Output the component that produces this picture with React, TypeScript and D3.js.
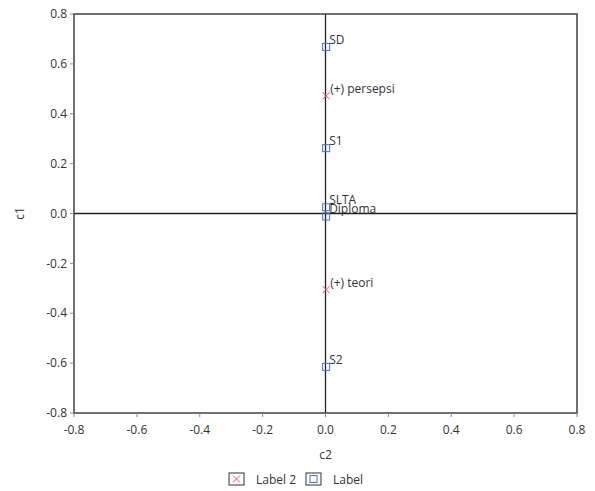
import React from "react";
import * as d3 from "d3";

const labelPoints = [
  { name: "SD", c2: 0.002, c1: 0.668 },
  { name: "S1", c2: 0.002, c1: 0.262 },
  { name: "SLTA", c2: 0.002, c1: 0.025 },
  { name: "Diploma", c2: 0.002, c1: -0.012 },
  { name: "S2", c2: 0.002, c1: -0.615 },
];
const label2Points = [
  { name: "(+) persepsi", c2: 0.002, c1: 0.472 },
  { name: "(+) teori", c2: 0.002, c1: -0.305 },
];
const ticks = [-0.8, -0.6, -0.4, -0.2, 0.0, 0.2, 0.4, 0.6, 0.8];

const W = 595, H = 491;
const L = 74, R = 577, T = 14, B = 413;
const FONT = "'Open Sans', 'DejaVu Sans', sans-serif";
const AX = "#404040";
const BLUE = "#4472C4";
const RED = "#E05070";

export default function App() {
  const x = d3.scaleLinear().domain([-0.8, 0.8]).range([L, R]);
  const y = d3.scaleLinear().domain([-0.8, 0.8]).range([B, T]);
  const fmt = (v: number) => d3.format(".1f")(v).replace("\u2212", "-");
  return (
    <svg width={W} height={H} style={{ position: "absolute", left: 0, top: 0, background: "#fff" }} fontFamily={FONT}>
      <rect x={0} y={0} width={W} height={H} fill="#fff" />
      <line x1={L} x2={R} y1={y(0)} y2={y(0)} stroke="#222" strokeWidth={1.3} />
      <line x1={x(0)} x2={x(0)} y1={T} y2={B} stroke="#222" strokeWidth={1.3} />
      <rect x={L} y={T} width={R - L} height={B - T} fill="none" stroke={AX} strokeWidth={1.5} />
      {ticks.map((t) => (
        <g key={"y" + t}>
          <line x1={L - 4} x2={L} y1={y(t)} y2={y(t)} stroke="#888" />
          <text x={L - 7} y={y(t)} dy="0.35em" textAnchor="end" fontSize={12} fill="#333">{fmt(t)}</text>
        </g>
      ))}
      {ticks.map((t) => (
        <g key={"x" + t}>
          <line x1={x(t)} x2={x(t)} y1={B} y2={B + 4} stroke="#888" />
          <text x={x(t)} y={B + 21} textAnchor="middle" fontSize={12} fill="#333">{fmt(t)}</text>
        </g>
      ))}
      <text x={x(0)} y={459} textAnchor="middle" fontSize={12} fill="#333">c2</text>
      <text transform={`translate(24,${y(0)}) rotate(-90)`} textAnchor="middle" fontSize={12} fill="#333">c1</text>
      {labelPoints.map((p) => (
        <g key={p.name}>
          <rect x={x(p.c2) - 3.5} y={y(p.c1) - 3.5} width={7} height={7} fill="none" stroke={BLUE} strokeWidth={1} />
          <text x={x(p.c2) + 3} y={y(p.c1) - 3} fontSize={12} fill="#333">{p.name}</text>
        </g>
      ))}
      {label2Points.map((p) => (
        <g key={p.name}>
          <path d={`M${x(p.c2) - 3.5},${y(p.c1) - 3.5}L${x(p.c2) + 3.5},${y(p.c1) + 3.5}M${x(p.c2) + 3.5},${y(p.c1) - 3.5}L${x(p.c2) - 3.5},${y(p.c1) + 3.5}`} stroke={RED} strokeWidth={1} />
          <text x={x(p.c2) + 4} y={y(p.c1) - 3} fontSize={12} fill="#333">{p.name}</text>
        </g>
      ))}
      <g>
        <rect x={229} y={473} width={15} height={12} fill="none" stroke="#333" strokeWidth={1} />
        <path d="M233,475.5L240,482.5M240,475.5L233,482.5" stroke={RED} strokeWidth={1} />
        <text x={256} y={484} fontSize={12} fill="#333">Label 2</text>
        <rect x={306} y={473} width={15} height={12} fill="none" stroke="#333" strokeWidth={1} />
        <rect x={310} y={475.5} width={7} height={7} fill="none" stroke={BLUE} strokeWidth={1} />
        <text x={333} y={484} fontSize={12} fill="#333">Label</text>
      </g>
    </svg>
  );
}
